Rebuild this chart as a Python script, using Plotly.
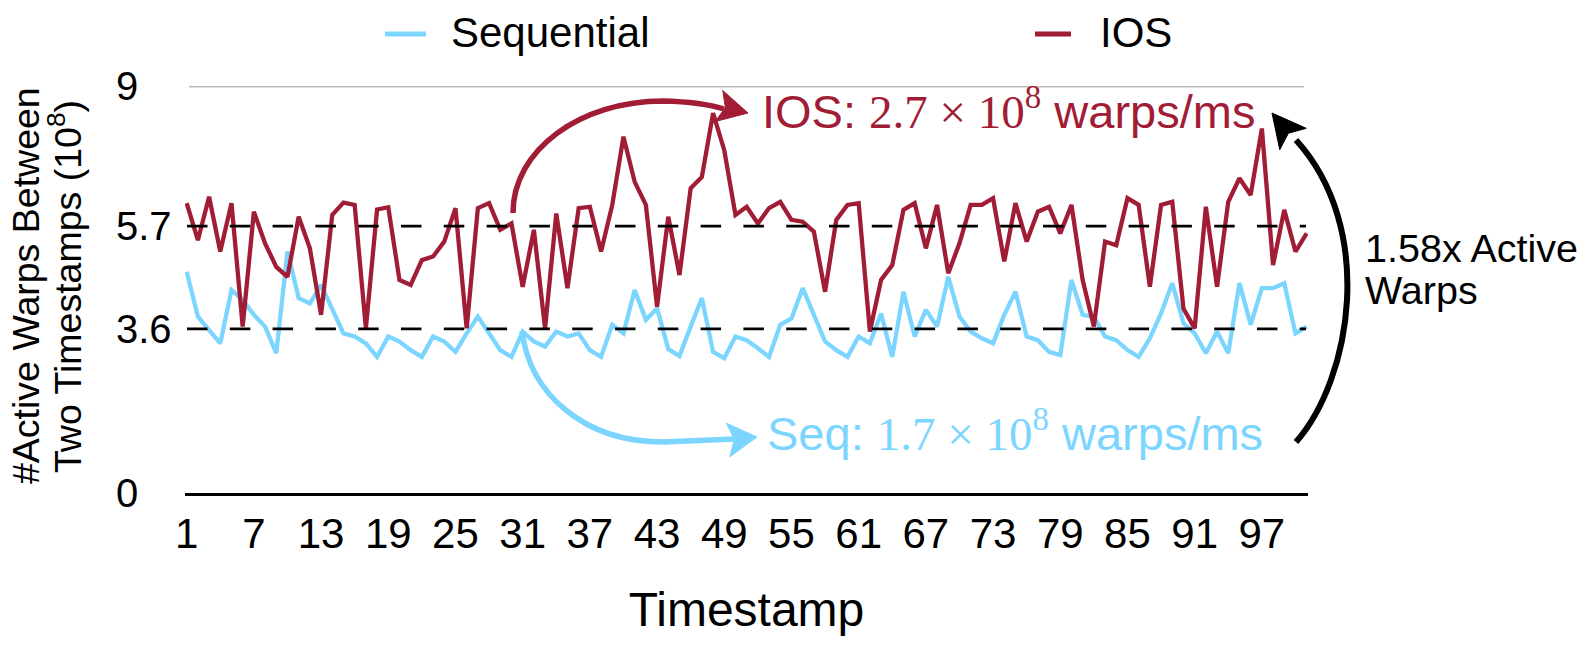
import plotly.graph_objects as go

# ---------------- data ----------------
timestamps = list(range(1, 102))

seq = [4.89, 3.90, 3.60, 3.31, 4.49, 4.27, 3.94, 3.68, 3.09, 5.34,
       4.31, 4.19, 4.60, 4.08, 3.53, 3.46, 3.31, 3.01, 3.46, 3.35,
       3.16, 3.01, 3.46, 3.35, 3.12, 3.53, 3.90, 3.53, 3.16, 3.01,
       3.57, 3.35, 3.24, 3.57, 3.46, 3.53, 3.16, 3.01, 3.72, 3.53,
       4.49, 3.83, 4.08, 3.18, 3.03, 3.68, 4.31, 3.12, 2.98, 3.46,
       3.38, 3.20, 3.01, 3.72, 3.86, 4.53, 3.92, 3.35, 3.16, 3.01,
       3.46, 3.31, 3.97, 3.01, 4.45, 3.46, 4.05, 3.68, 4.78, 3.90,
       3.57, 3.42, 3.31, 3.94, 4.45, 3.46, 3.38, 3.12, 3.05, 4.71,
       3.94, 3.90, 3.46, 3.38, 3.16, 3.01, 3.42, 3.97, 4.64, 3.75,
       3.53, 3.09, 3.57, 3.09, 4.64, 3.72, 4.53, 4.53, 4.64, 3.53,
       3.68]

ios = [6.41, 5.59, 6.55, 5.34, 6.41, 3.68, 6.22, 5.52, 5.00, 4.78,
       6.11, 5.41, 3.94, 6.15, 6.42, 6.37, 3.64, 6.27, 6.32, 4.71,
       4.60, 5.15, 5.23, 5.56, 6.30, 3.64, 6.30, 6.41, 5.82, 5.96,
       4.56, 5.82, 3.64, 6.18, 4.53, 6.30, 6.33, 5.34, 6.37, 7.88,
       6.88, 6.37, 4.12, 6.11, 4.82, 6.74, 6.99, 8.40, 7.58, 6.15,
       6.33, 5.96, 6.30, 6.44, 6.04, 6.00, 5.78, 4.45, 6.04, 6.37,
       6.41, 3.57, 4.71, 5.04, 6.26, 6.41, 5.41, 6.37, 4.86, 5.52,
       6.37, 6.37, 6.52, 5.12, 6.41, 5.56, 6.22, 6.33, 5.74, 6.37,
       4.71, 3.68, 5.56, 5.48, 6.52, 6.37, 4.56, 6.37, 6.44, 4.08,
       3.64, 6.33, 4.56, 6.44, 6.96, 6.59, 8.06, 5.04, 6.26, 5.34,
       5.74]

series_names = ["Sequential", "IOS"]
x_tick_vals = list(range(1, 98, 6))
y_tick_vals = [0, 3.63, 5.9, 9]
y_tick_text = ["0", "3.6", "5.7", "9"]
ref_lines = [3.63, 5.9]

RED = "#A11C35"
BLUE = "#7CD5FF"
SANS = "Liberation Sans, Arial, Helvetica, sans-serif"
SERIF = "Liberation Serif, Times New Roman, serif"

# ---------------- geometry helpers (plot area in pixels) ----------------
W, H = 1588, 648
PL, PR, PT, PB = 185, 1308, 86, 493


def fx(p):
    return (p - PL) / (PR - PL)


def fy(p):
    return (PB - p) / (PB - PT)


def pt(x, y):
    return f"{fx(x):.5f},{fy(y):.5f}"


def head(tip, back_center, half_w, notch=0.22):
    tx, ty = tip
    cx, cy = back_center
    dx, dy = tx - cx, ty - cy
    ln = (dx * dx + dy * dy) ** 0.5
    ux, uy = dx / ln, dy / ln
    nx, ny = -uy, ux
    b1 = (cx + half_w * nx, cy + half_w * ny)
    b2 = (cx - half_w * nx, cy - half_w * ny)
    nt = (cx + notch * ln * ux, cy + notch * ln * uy)
    return f"M {pt(*tip)} L {pt(*b1)} L {pt(*nt)} L {pt(*b2)} Z"


fig = go.Figure()
fig.add_trace(go.Scatter(x=timestamps, y=seq, mode="lines", name=series_names[0],
                         line=dict(color=BLUE, width=4.3), showlegend=False))
fig.add_trace(go.Scatter(x=timestamps, y=ios, mode="lines", name=series_names[1],
                         line=dict(color=RED, width=4.3), showlegend=False))

shapes = []
# top gridline at 9
shapes.append(dict(type="line", xref="paper", yref="y", x0=fx(189), x1=fx(1304),
                   y0=9, y1=9, line=dict(color="#BBBBBB", width=3), layer="below"))
# dashed reference lines
for v in ref_lines:
    shapes.append(dict(type="line", xref="paper", yref="y", x0=fx(187), x1=fx(1306),
                       y0=v, y1=v, line=dict(color="black", width=2.8, dash="20.5px,22.3px"),
                       layer="above"))

# red curved arrow
shapes.append(dict(type="path", xref="paper", yref="paper",
                   path=f"M {pt(513,213)} C {pt(513,150)} {pt(580,101)} {pt(663,101)} "
                        f"Q {pt(702,102)} {pt(724,109)}",
                   line=dict(color=RED, width=5.5)))
shapes.append(dict(type="path", xref="paper", yref="paper",
                   path=head((748, 113), (719, 106), 16),
                   fillcolor=RED, line=dict(color=RED, width=1)))
# blue curved arrow
shapes.append(dict(type="path", xref="paper", yref="paper",
                   path=f"M {pt(522,331)} C {pt(530,395)} {pt(585,442)} {pt(663,442)} "
                        f"L {pt(734,439)}",
                   line=dict(color=BLUE, width=5.5)))
shapes.append(dict(type="path", xref="paper", yref="paper",
                   path=head((757, 437), (728, 440), 17),
                   fillcolor=BLUE, line=dict(color=BLUE, width=1)))
# black curved arrow
shapes.append(dict(type="path", xref="paper", yref="paper",
                   path=f"M {pt(1296,442)} C {pt(1352,378)} {pt(1376,228)} {pt(1296,140)}",
                   line=dict(color="black", width=6)))
shapes.append(dict(type="path", xref="paper", yref="paper",
                   path=head((1272, 113), (1293, 139), 17),
                   fillcolor="black", line=dict(color="black", width=1)))

# legend (drawn manually so the spacing matches)
legend_items = [(series_names[0], BLUE, 385, 426, 449), (series_names[1], RED, 1035, 1071, 1098)]
annotations = []
for name, col, lx0, lx1, tx in legend_items:
    shapes.append(dict(type="line", xref="paper", yref="paper", x0=fx(lx0), x1=fx(lx1),
                       y0=fy(34), y1=fy(34), line=dict(color=col, width=5)))
    annotations.append(dict(x=fx(tx), xref="paper", y=fy(33), yref="paper", text=name,
                            showarrow=False, xanchor="left", yanchor="middle",
                            font=dict(family=SANS, size=42, color="black")))

# y tick labels
for v, t in zip(y_tick_vals, y_tick_text):
    annotations.append(dict(x=fx(114), xref="paper", y=v, yref="y", text=t,
                            showarrow=False, xanchor="left", yanchor="middle",
                            font=dict(family=SANS, size=40, color="black")))
# y title (two lines)
annotations.append(dict(x=fx(26), xref="paper", y=fy(286), yref="paper",
                        text="#Active Warps Between", textangle=-90, showarrow=False,
                        xanchor="center", yanchor="middle",
                        font=dict(family=SANS, size=37.5, color="black")))
annotations.append(dict(x=fx(65), xref="paper", y=fy(287), yref="paper",
                        text="Two Timestamps (10<sup>8</sup>)", textangle=-90, showarrow=False,
                        xanchor="center", yanchor="middle",
                        font=dict(family=SANS, size=37.5, color="black")))
# IOS rate label
annotations.append(dict(x=fx(760), xref="paper", y=fy(109), yref="paper",
                        text=f"IOS: <span style='font-family:{SERIF}'>2.7 × 10<sup>8</sup></span> warps/ms",
                        showarrow=False, xanchor="left", yanchor="middle",
                        font=dict(family=SANS, size=47, color=RED)))
# Seq rate label
annotations.append(dict(x=fx(765), xref="paper", y=fy(430), yref="paper",
                        text=f"Seq: <span style='font-family:{SERIF}'>1.7 × 10<sup>8</sup></span> warps/ms",
                        showarrow=False, xanchor="left", yanchor="middle",
                        font=dict(family=SANS, size=47, color=BLUE)))
# ratio label
annotations.append(dict(x=fx(1363), xref="paper", y=fy(248), yref="paper",
                        text="1.58x Active", showarrow=False, xanchor="left", yanchor="middle",
                        font=dict(family=SANS, size=39.5, color="black")))
annotations.append(dict(x=fx(1363), xref="paper", y=fy(290), yref="paper",
                        text="Warps", showarrow=False, xanchor="left", yanchor="middle",
                        font=dict(family=SANS, size=39.5, color="black")))

fig.update_layout(
    width=W, height=H,
    margin=dict(l=PL, r=W - PR, t=PT, b=H - PB, autoexpand=False),
    paper_bgcolor="white", plot_bgcolor="white",
    font=dict(family=SANS, color="black"),
    shapes=shapes, annotations=annotations,
    showlegend=False,
    xaxis=dict(range=[0.85, 101.12], tickmode="array", tickvals=x_tick_vals,
               ticktext=[str(v) for v in x_tick_vals], showgrid=False, zeroline=False,
               showline=True, linecolor="black", linewidth=3, ticks="",
               tickfont=dict(family=SANS, size=42, color="black"), ticklabelstandoff=2,
               title=dict(text="Timestamp", font=dict(family=SANS, size=48, color="black"),
                          standoff=36)),
    yaxis=dict(range=[0, 9], showgrid=False, zeroline=False, showline=False,
               showticklabels=False, ticks="", fixedrange=True),
)

fig.write_html("out.html", config={"displayModeBar": False},
               post_script="document.body.style.margin='0';")
